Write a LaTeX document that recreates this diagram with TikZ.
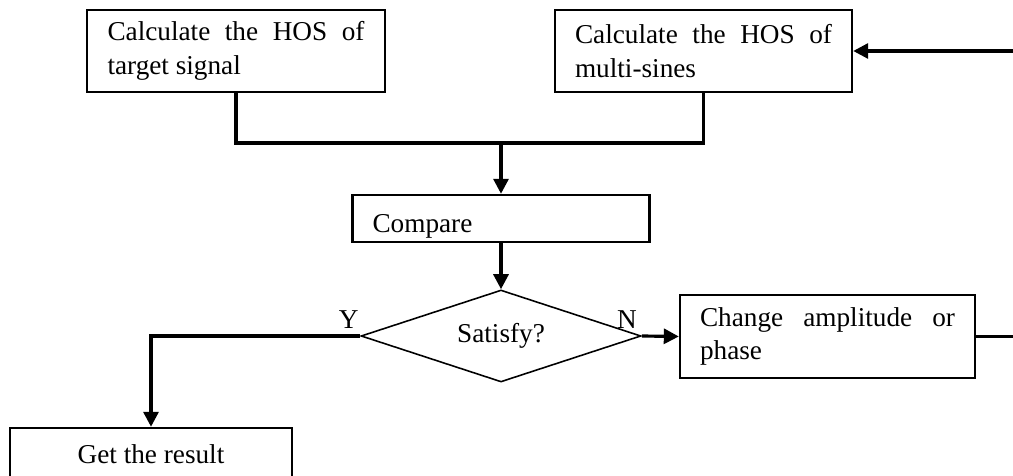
\documentclass[tikz,border=0pt]{standalone}
\usepackage{fontspec}
\setmainfont{Liberation Serif}
\usetikzlibrary{arrows.meta,shapes.geometric}

\begin{document}
\begin{tikzpicture}[x=0.02cm,y=0.02cm,>={Triangle[length=0.3cm,width=0.3cm]},
  box/.style={draw,line width=1.4pt,font=\fontsize{15.5}{19}\selectfont},
  dec/.style={draw,diamond,shape aspect=3,line width=0.9pt,inner sep=0pt,font=\fontsize{15.5}{18}\selectfont},
  lbl/.style={font=\fontsize{15.5}{18}\selectfont,anchor=south east,inner xsep=0pt},
  line/.style={line width=1.8pt}]
  \useasboundingbox (0,0) rectangle (1013,476);
  \node[box,minimum width=5.96cm,minimum height=1.64cm,text width=5.14cm,align=justify] (hosT) at (236,425) {Calculate the HOS of target signal};
  \node[box,minimum width=5.94cm,minimum height=1.64cm,text width=5.14cm,align=justify] (hosM) at (703.5,425) {Calculate the HOS of multi-sines};
  \node[box,minimum width=5.94cm,minimum height=0.94cm,text width=5.14cm,text height=0.55cm,text depth=0pt,align=left] (cmp) at (501,257.5) {Compare};
  \node[dec,minimum width=5.6cm,minimum height=1.84cm] (sat) at (501,140) {Satisfy?};
  \node[box,minimum width=5.9cm,minimum height=1.66cm,text width=5.1cm,align=justify] (chg) at (827.5,139.5) {Change amplitude or phase};
  \node[box,minimum width=5.64cm,minimum height=1.04cm,align=center] (res) at (151,22) {Get the result};
  \coordinate (jn) at (501,333);
  \coordinate (fb) at (1040,425);
  \draw[line] (hosT.south) |- (jn) -| (hosM.south);
  \draw[line,->] (jn) -- (cmp.north);
  \draw[line,->] (cmp.south) -- (sat.north);
  \draw[line,->] (sat.east) -- (chg.west) node[lbl,pos=0,xshift=-2pt] {N};
  \draw[line,->] (sat.west) -| (res.north) node[lbl,pos=0] {Y};
  \draw[line,->] (chg.east) -| (fb) -- (hosM.east);
\end{tikzpicture}
\end{document}
